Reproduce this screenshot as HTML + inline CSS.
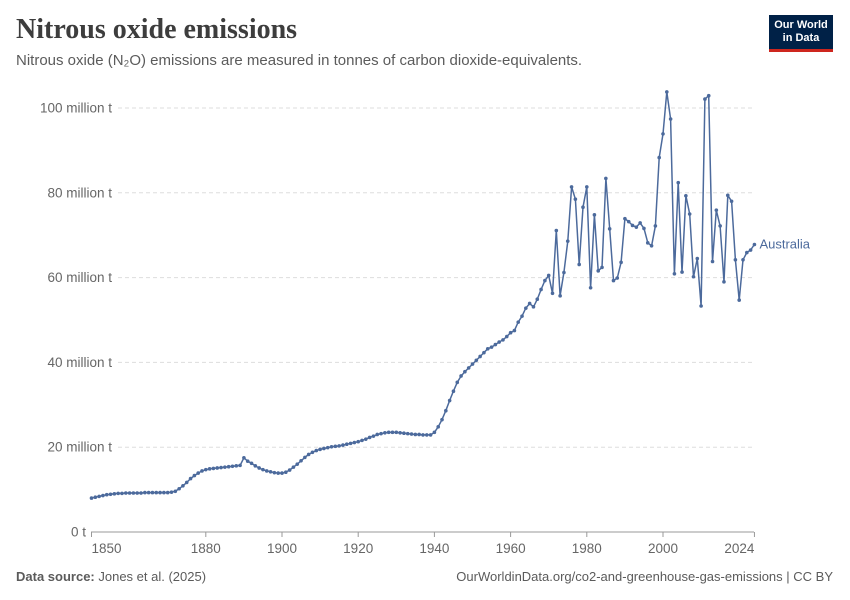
<!DOCTYPE html>
<html><head><meta charset="utf-8"><style>
body{margin:0;background:#fff;font-family:"Liberation Sans",sans-serif}
#wrap{position:relative;width:850px;height:600px;overflow:hidden}
.t{position:absolute;white-space:nowrap}
</style></head><body>
<div id="wrap">
<div class="t" style="left:16px;top:14px;font-family:'Liberation Serif',serif;font-size:28px;font-weight:bold;color:#3d3d3d">Nitrous oxide emissions</div>
<div class="t" style="left:16px;top:52px;font-size:15px;color:#5b5b5b">Nitrous oxide (N₂O) emissions are measured in tonnes of carbon dioxide-equivalents.</div>
<div class="t" style="left:769px;top:15px;width:64px;height:37px;background:#002147;border-bottom:3px solid #ce261e;color:#fff;font-size:11px;font-weight:bold;text-align:center;line-height:13px;padding-top:4px;box-sizing:border-box">Our World<br>in Data</div>
<svg id="chart" width="850" height="600" style="position:absolute;left:0;top:0"></svg>
<div class="t" style="left:16px;top:569px;font-size:13px;color:#5b5b5b"><b>Data source:</b> Jones et al. (2025)</div>
<div class="t" style="right:17px;top:569px;font-size:13px;color:#5b5b5b">OurWorldinData.org/co2-and-greenhouse-gas-emissions | CC BY</div>
</div>
<script>
const startYear = 1850;
const values = [8.0,8.2,8.4,8.6,8.8,8.9,9.0,9.1,9.1,9.2,9.2,9.2,9.2,9.2,9.3,9.3,9.3,9.3,9.3,9.3,9.3,9.4,9.6,
10.2,10.9,11.7,12.6,13.3,13.9,14.4,14.7,14.9,15.0,15.1,15.2,15.3,15.4,15.5,15.6,15.7,
17.5,16.7,16.2,15.6,15.1,14.7,14.4,14.2,14.0,13.9,13.9,14.1,14.6,15.3,16.0,16.8,17.6,18.3,18.8,19.2,
19.5,19.7,19.9,20.1,20.2,20.3,20.5,20.7,20.9,21.1,21.3,21.6,21.9,22.3,22.6,23.0,23.2,23.4,23.5,23.5,
23.5,23.4,23.3,23.2,23.1,23.0,23.0,22.9,22.9,22.9,23.5,24.8,26.5,28.6,31.0,33.2,35.3,36.8,37.8,38.7,
39.6,40.5,41.4,42.3,43.2,43.6,44.2,44.8,45.3,46.1,
47.0,47.5,49.5,50.9,52.8,53.9,53.1,54.9,57.2,59.3,
60.5,56.3,71.1,55.7,61.2,68.6,81.4,78.5,63.1,76.6,
81.4,57.6,74.8,61.6,62.4,83.4,71.5,59.3,59.9,63.6,
73.9,73.2,72.3,71.9,72.9,71.6,68.2,67.5,72.2,88.3,
93.9,103.8,97.4,60.9,82.4,61.3,79.3,75.0,60.2,64.5,
53.3,102.1,102.9,63.8,75.9,72.2,59.0,79.4,78.0,64.2,
54.7,64.2,65.9,66.5,67.8];
const yTicks = [0,20,40,60,80,100];
const xTicks = [1850,1880,1900,1920,1940,1960,1980,2000,2024];
const seriesName = "Australia";

const svg = document.getElementById('chart');
const NS = 'http://www.w3.org/2000/svg';
const x = yr => 91.5 + (yr - 1850) * 3.81;
const y = v => 532 - v * 4.24;
function mk(tag, attrs){const e=document.createElementNS(NS,tag);for(const k in attrs)e.setAttribute(k,attrs[k]);svg.appendChild(e);return e;}

yTicks.forEach(v=>{
  const g = mk('line',{x1:v===0?91:118,x2:754,y1:y(v),y2:y(v),stroke:v===0?'#999':'#ddd','stroke-dasharray':v===0?'':'4,3'});
  
  
  const t = mk('text',{x:v===0?86:112,y:y(v)+4.5,'text-anchor':'end','font-size':13.5,fill:'#666','font-family':'Liberation Sans, sans-serif'});
  t.textContent = v===0 ? '0 t' : v+' million t';
  
  
});
xTicks.forEach((yr,i)=>{
  const tk = mk('line',{x1:x(yr),x2:x(yr),y1:532,y2:537,stroke:'#999'});
  
  
  const anchor = i===0 ? 'start' : (i===xTicks.length-1 ? 'end' : 'middle');
  const t = mk('text',{x:x(yr),y:553,'text-anchor':anchor,'font-size':13.5,fill:'#666','font-family':'Liberation Sans, sans-serif'});
  t.textContent = yr;
  
  
});
const pts = values.map((v,i)=>x(startYear+i).toFixed(1)+','+y(v).toFixed(1)).join(' ');
const line = mk('polyline',{points:pts,fill:'none',stroke:'#4c6a9c','stroke-width':1.5,'stroke-linejoin':'round'});


values.forEach((v,i)=>{
  const c = mk('circle',{cx:x(startYear+i),cy:y(v),r:1.8,fill:'#4c6a9c'});
  
  
});
const last = values[values.length-1];
const lab = mk('text',{x:x(startYear+values.length-1)+5,y:y(last)+4,'font-size':13,fill:'#4c6a9c','font-family':'Liberation Sans, sans-serif'});
lab.textContent = seriesName;


</script>
</body></html>
